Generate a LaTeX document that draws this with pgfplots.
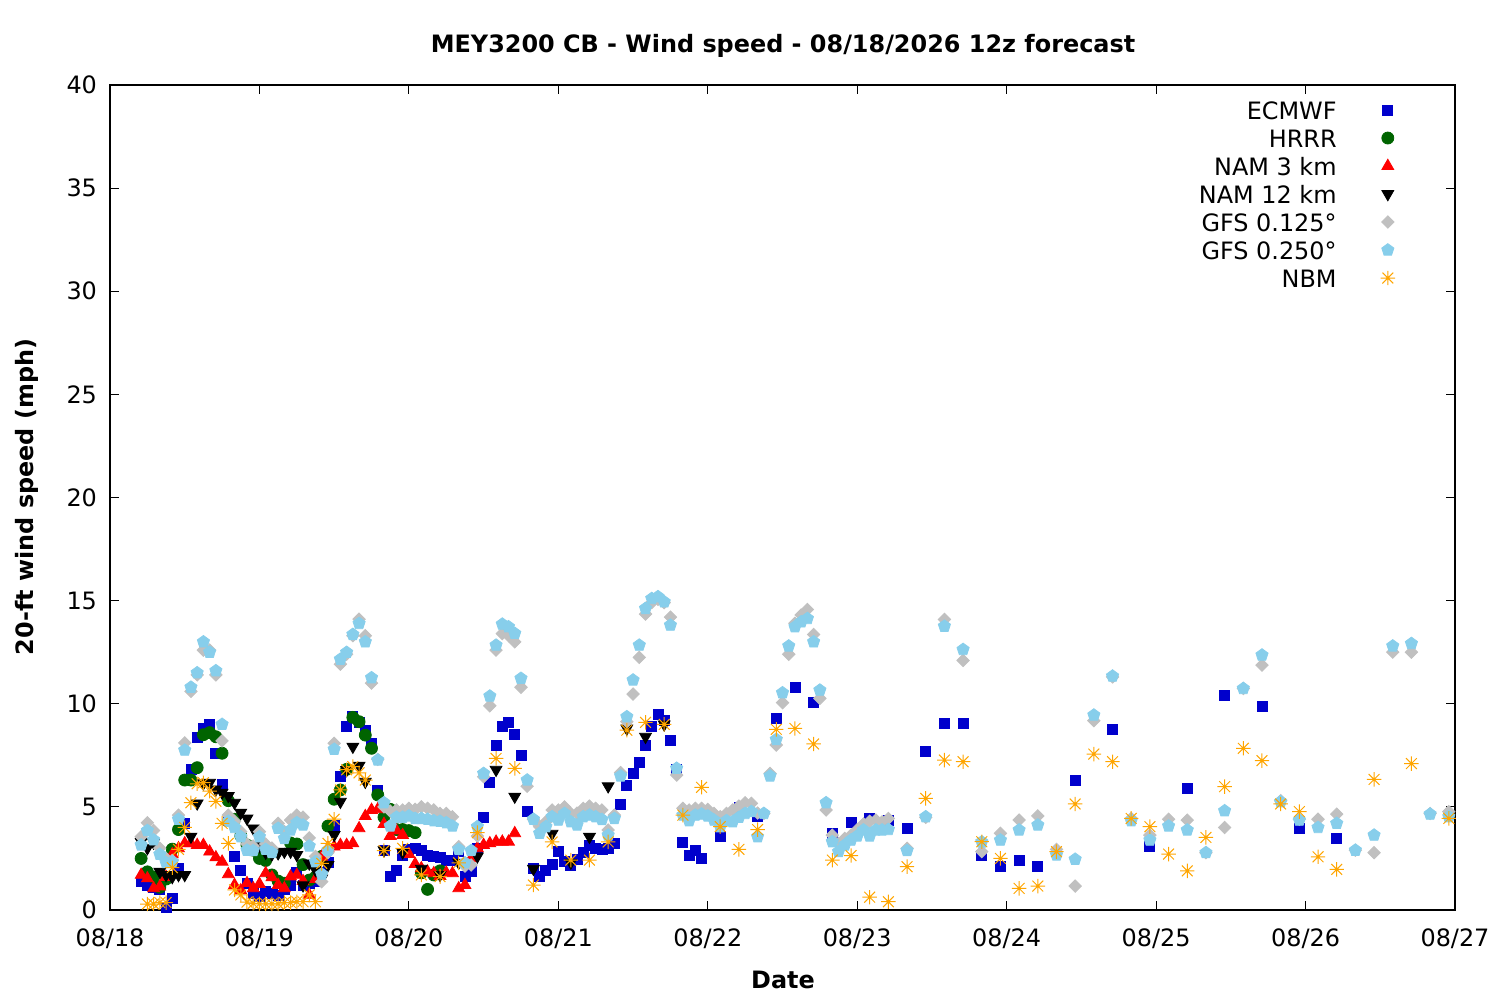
\documentclass[border=0pt]{standalone}
\usepackage{fontspec}
\setmainfont{DejaVu Sans}
\usepackage{pgfplots}
\pgfplotsset{compat=1.18}
\usepackage{pgfplotstable}

\definecolor{ecm}{RGB}{0,0,204}
\definecolor{hrrr}{RGB}{0,100,0}
\definecolor{namthree}{RGB}{255,0,0}
\definecolor{gfsa}{RGB}{192,192,192}
\definecolor{gfsb}{RGB}{135,206,235}
\definecolor{nbm}{RGB}{255,165,0}

\pgfdeclareplotmark{star8}{%
  \pgfpathmoveto{\pgfqpoint{-\pgfplotmarksize}{0pt}}\pgfpathlineto{\pgfqpoint{\pgfplotmarksize}{0pt}}%
  \pgfpathmoveto{\pgfqpoint{0pt}{-\pgfplotmarksize}}\pgfpathlineto{\pgfqpoint{0pt}{\pgfplotmarksize}}%
  \pgfpathmoveto{\pgfqpoint{-.75\pgfplotmarksize}{-.75\pgfplotmarksize}}\pgfpathlineto{\pgfqpoint{.75\pgfplotmarksize}{.75\pgfplotmarksize}}%
  \pgfpathmoveto{\pgfqpoint{-.75\pgfplotmarksize}{.75\pgfplotmarksize}}\pgfpathlineto{\pgfqpoint{.75\pgfplotmarksize}{-.75\pgfplotmarksize}}%
  \pgfusepathqstroke}

\pgfplotsset{pt/.style={only marks, legend image code/.code={\draw[##1] plot coordinates {(0bp,0bp)};}}}

\pgfplotstableread{
h v
5 1.37
6 1.2
7 1.1
8 1.0
9 0.15
10 0.55
11 2.0
12 4.2
13 6.8
14 8.35
15 8.8
16 9.0
17 7.6
18 6.1
19 4.36
20 2.6
21 1.94
22 1.3
23 0.8
24 0.65
25 0.9
26 0.8
27 0.7
28 1.0
29 1.2
30 1.8
31 1.2
32 1.3
33 1.37
34 1.8
35 2.3
36 4.1
37 6.46
38 8.9
39 9.4
40 9.1
41 8.7
42 8.1
43 5.8
44 2.9
45 1.65
46 1.94
47 2.67
48 2.94
49 3.0
50 2.9
51 2.67
52 2.6
53 2.55
54 2.4
55 2.4
56 2.83
57 1.65
58 1.86
59 3.0
60 4.5
61 6.2
62 8.0
63 8.9
64 9.1
65 8.5
66 7.5
67 4.77
68 2.0
69 1.65
70 1.94
71 2.2
72 2.83
73 2.34
74 2.15
75 2.45
76 2.78
77 3.15
78 2.99
79 2.94
80 3.0
81 3.23
82 5.12
83 6.03
84 6.6
85 7.14
86 8.0
87 8.9
88 9.5
89 9.2
90 8.24
91 6.8
92 3.28
93 2.67
94 2.88
95 2.5
98 3.59
101 4.96
104 4.55
107 9.3
110 10.8
113 10.06
116 3.7
119 4.25
122 4.44
125 4.36
128 3.96
131 7.7
134 9.05
137 9.05
140 2.67
143 2.1
146 2.42
149 2.1
155 6.28
161 8.75
167 3.1
173 5.9
179 10.42
185 9.89
191 3.96
197 3.47
}\ecmwf

\pgfplotstableread{
h v
5 2.5
6 1.85
7 1.6
8 1.1
9 1.5
10 2.95
11 3.9
12 6.3
13 6.3
14 6.9
15 8.5
16 8.6
17 8.4
18 7.6
19 5.3
20 4.4
21 3.6
22 3.15
23 2.9
24 2.5
25 2.4
26 1.7
27 1.4
28 1.3
29 3.25
30 3.2
31 2.2
32 1.45
33 1.6
34 2.6
35 4.07
36 5.37
37 5.82
38 6.82
39 9.34
40 9.13
41 8.48
42 7.84
43 5.58
44 4.5
45 4.88
46 3.9
47 3.9
48 3.85
49 3.75
50 1.8
51 1.0
52 1.7
53 1.9
}\hrrrt

\pgfplotstableread{
h v
5 1.7
6 1.53
7 1.05
8 1.13
9 1.6
10 2.7
11 2.99
12 3.23
13 3.23
14 3.15
15 3.15
16 2.83
17 2.55
18 2.34
19 1.73
20 1.21
21 0.95
22 1.3
23 1.05
24 1.26
25 1.78
26 1.58
27 1.21
28 1.05
29 1.62
30 1.7
31 1.4
32 0.73
33 1.5
34 2.58
35 3.0
36 3.07
37 3.15
38 3.15
39 3.23
40 3.96
41 4.55
42 4.85
43 4.88
44 4.17
45 3.59
46 3.85
47 3.63
48 2.71
49 2.23
50 2.02
51 1.86
52 1.78
53 1.65
54 1.81
55 1.78
56 1.05
57 1.21
58 2.5
59 2.99
60 3.15
61 3.23
62 3.31
63 3.31
64 3.31
65 3.72
}\namthreet

\pgfplotstableread{
h v
5 3.3
6 3.0
7 3.27
8 1.86
9 1.7
10 1.6
11 1.7
12 1.7
13 3.56
14 5.17
15 6.15
16 6.17
17 5.85
18 5.69
19 5.53
20 5.2
21 4.72
22 4.44
23 3.96
24 3.1
25 2.78
26 2.7
27 2.75
28 2.83
29 2.83
30 2.67
31 1.2
32 2.26
33 1.94
34 1.53
35 2.18
36 3.64
37 5.25
38 6.79
39 7.92
40 7.0
41 6.22
44 2.9
47 2.8
50 2.0
53 1.7
56 2.3
59 2.6
62 6.8
65 5.5
68 2.0
71 3.7
74 2.3
77 3.55
80 6.0
83 8.8
86 8.4
89 9.0
}\namtwelvet

\pgfplotstableread{
h v
5 3.55
6 4.23
7 3.85
8 3.0
9 2.5
10 2.4
11 4.6
12 8.1
13 10.6
14 11.4
15 12.6
16 12.6
17 11.4
18 8.2
19 4.6
20 4.3
21 3.8
22 3.2
23 3.1
24 3.8
25 3.2
26 3.0
27 4.2
28 3.8
29 4.36
30 4.6
31 4.5
32 3.5
33 2.6
34 1.37
35 2.78
36 8.08
37 11.92
38 12.4
39 13.3
40 14.1
41 13.3
42 11.0
43 7.3
44 5.0
45 4.8
46 4.85
47 4.85
48 4.93
49 4.88
50 5.0
51 4.93
52 4.85
53 4.68
54 4.68
55 4.52
56 3.07
57 2.13
58 2.18
59 3.59
60 6.46
61 9.9
62 12.6
63 13.4
64 13.3
65 13.0
66 10.8
67 6.0
68 4.4
69 4.04
70 4.28
71 4.85
72 4.85
73 5.0
74 4.68
75 4.7
76 4.93
77 5.04
78 4.93
79 4.85
80 3.88
81 4.6
82 6.66
83 9.13
84 10.47
85 12.25
86 14.35
87 14.9
88 15.06
89 14.9
90 14.2
91 6.54
92 4.93
93 4.85
94 4.93
95 4.93
96 4.88
97 4.68
98 4.52
99 4.68
100 4.85
101 5.04
102 5.2
103 5.17
104 4.7
105 4.68
106 6.62
107 8.0
108 10.05
109 12.4
110 13.9
111 14.3
112 14.57
113 13.36
114 10.26
115 4.85
116 3.63
117 3.23
118 3.47
119 3.63
120 3.9
121 4.17
122 4.3
123 4.36
124 4.28
125 4.44
128 2.99
131 4.49
134 14.09
137 12.1
140 2.83
143 3.72
146 4.36
149 4.56
152 2.94
155 1.16
158 9.18
161 11.3
164 4.44
167 3.63
170 4.4
173 4.36
176 2.78
179 4.0
182 10.74
185 11.87
188 5.3
191 4.4
194 4.4
197 4.65
200 2.9
203 2.78
206 12.5
209 12.5
212 4.68
215 4.77
}\gfsat

\pgfplotstableread{
h v
5 3.15
6 3.85
7 3.4
8 2.7
9 2.3
10 2.34
11 4.4
12 7.75
13 10.8
14 11.5
15 13.0
16 12.5
17 11.6
18 9.0
19 4.3
20 4.0
21 3.55
22 2.9
23 2.88
24 3.55
25 2.94
26 2.78
27 3.96
28 3.47
29 3.88
30 4.23
31 4.12
32 3.1
33 2.34
34 1.74
35 2.9
36 7.79
37 12.16
38 12.49
39 13.36
40 13.89
41 13.0
42 11.26
43 7.27
44 5.2
45 4.07
46 4.5
47 4.5
48 4.56
49 4.44
50 4.44
51 4.4
52 4.33
53 4.3
54 4.23
55 4.07
56 2.94
57 2.29
58 2.88
59 4.04
60 6.62
61 10.37
62 12.84
63 13.86
64 13.73
65 13.41
66 11.23
67 6.3
68 4.4
69 3.72
70 4.04
71 4.52
72 4.36
73 4.68
74 4.28
75 4.12
76 4.52
77 4.6
78 4.52
79 4.39
80 3.63
81 4.44
82 6.5
83 9.37
84 11.15
85 12.84
86 14.62
87 15.1
88 15.19
89 14.94
90 13.81
91 6.87
92 4.6
93 4.33
94 4.6
95 4.65
96 4.56
97 4.36
98 4.04
99 4.33
100 4.28
101 4.49
102 4.68
103 4.77
104 3.55
105 4.68
106 6.5
107 8.27
108 10.53
109 12.8
110 13.73
111 13.97
112 14.13
113 13.0
114 10.66
115 5.2
116 3.31
117 2.83
118 3.15
119 3.39
120 3.59
121 3.88
122 3.59
123 3.88
124 3.88
125 3.9
128 2.88
131 4.52
134 13.76
137 12.63
140 3.3
143 3.39
146 3.88
149 4.12
152 2.67
155 2.46
158 9.45
161 11.34
164 4.33
167 3.39
170 4.07
173 3.88
176 2.78
179 4.81
182 10.74
185 12.36
188 5.25
191 4.36
194 4.0
197 4.2
200 2.9
203 3.63
206 12.8
209 12.92
212 4.65
215 4.52
}\gfsbt

\pgfplotstableread{
h v
6 0.29
7 0.29
8 0.36
9 0.36
10 2.05
11 2.94
12 4.0
13 5.2
14 6.12
15 6.17
16 5.76
17 5.27
18 4.2
19 3.23
20 0.97
21 0.73
22 0.38
23 0.32
24 0.3
25 0.3
26 0.3
27 0.3
28 0.36
29 0.36
30 0.4
31 0.4
32 0.73
33 0.4
34 2.26
35 3.23
36 4.4
37 5.82
38 6.8
39 6.95
40 6.65
41 6.3
44 2.88
47 2.99
50 1.7
53 1.62
56 2.29
59 3.75
62 7.35
65 6.87
68 1.21
71 3.3
74 2.42
77 2.42
80 3.3
83 8.72
86 9.1
89 9.0
92 4.6
95 5.95
98 4.04
101 2.94
104 3.9
107 8.76
110 8.8
113 8.05
116 2.42
119 2.64
122 0.62
125 0.4
128 2.1
131 5.41
134 7.27
137 7.19
140 3.31
143 2.5
146 1.05
149 1.16
152 2.83
155 5.14
158 7.56
161 7.19
164 4.44
167 4.04
170 2.71
173 1.9
176 3.52
179 5.98
182 7.84
185 7.24
188 5.14
191 4.77
194 2.58
197 1.97
203 6.33
209 7.1
215 4.44
}\nbmt

\begin{document}
\begin{tikzpicture}
\useasboundingbox (0,0) rectangle (750bp,500bp);
\begin{axis}[
  at={(55bp,45bp)}, anchor=south west,
  scale only axis, width=672.5bp, height=412.5bp,
  xmin=0, xmax=216, ymin=0, ymax=40,
  xtick={0,24,...,216},
  xticklabels={08/18,08/19,08/20,08/21,08/22,08/23,08/24,08/25,08/26,08/27},
  ytick={0,5,...,40},
  tick align=inside, tick pos=both,
  major tick length=4.5bp,
  axis line style={line width=0.6bp},
  every tick/.style={black, line width=0.6bp},
  ticklabel style={font=\fontsize{12}{14}\selectfont},
  /pgf/number format/assume math mode=true,
  yticklabel style={xshift=-3bp},
  xticklabel style={yshift=-6bp},
  clip=false,
  legend plot pos=right,
  legend cell align=right,
  legend style={at={(axis description cs:0.9554,0.9842)}, anchor=north east,
    draw=none, fill=none, inner sep=0pt, outer sep=0pt,
    font=\fontsize{12}{14}\selectfont,
    row sep=2bp, column sep=22bp,
    nodes={inner sep=0pt, text height=10.5bp, text depth=1.5bp}},
]
\addplot[pt, mark=square*, color=ecm, mark size=2.5bp] table[x=h,y=v]{\ecmwf};
\addplot[pt, mark=*, color=hrrr, mark size=3bp] table[x=h,y=v]{\hrrrt};
\addplot[pt, mark=triangle*, color=namthree, mark size=3.4bp] table[x=h,y=v]{\namthreet};
\addplot[pt, mark=triangle*, color=black, mark size=3.4bp, mark options={rotate=180}] table[x=h,y=v]{\namtwelvet};
\addplot[pt, mark=square*, color=gfsa, mark size=2.2bp, mark options={rotate=45}] table[x=h,y=v]{\gfsat};
\addplot[pt, mark=pentagon*, color=gfsb, mark size=3.2bp] table[x=h,y=v]{\gfsbt};
\addplot[pt, mark=star8, color=nbm, mark size=3.6bp, mark options={line width=0.5bp}] table[x=h,y=v]{\nbmt};
\legend{ECMWF,HRRR,NAM 3 km,NAM 12 km,GFS 0.125°,GFS 0.250°,NBM}
\end{axis}
\node[font=\bfseries\fontsize{12}{14}\selectfont] at (391.5bp,477bp) {MEY3200 CB - Wind speed - 08/18/2026 12z forecast};
\node[font=\bfseries\fontsize{12}{14}\selectfont] at (391.5bp,10bp) {Date};
\node[font=\bfseries\fontsize{12}{14}\selectfont, rotate=90] at (13.5bp,251.5bp) {20-ft wind speed (mph)};
\end{tikzpicture}
\end{document}
